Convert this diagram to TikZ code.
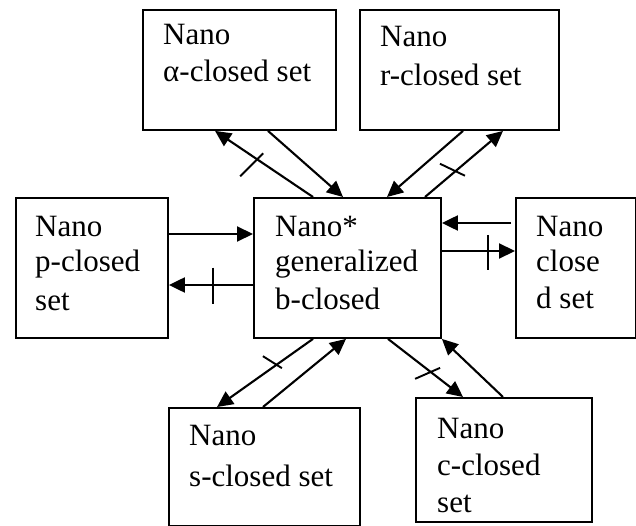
\documentclass[tikz,border=0pt]{standalone}
\usepackage{fontspec}
\setmainfont{Liberation Serif}
\usetikzlibrary{arrows.meta,calc}
\begin{document}
\begin{tikzpicture}[x=1pt,y=-1pt,
  box/.style={draw, line width=1.9pt, rectangle, inner sep=0pt, anchor=north west},
  lbl/.style={anchor=base west, inner sep=0pt, font=\fontsize{31}{37}\selectfont},
  conn/.style={line width=2.1pt, -{Triangle[length=16pt,width=15pt]}},
  tickln/.style={line width=1.9pt}]
\useasboundingbox (0,0) rectangle (636,526);

% boxes
\node[box, minimum width=193pt, minimum height=120pt] (alpha) at (142,9) {};
\node[box, minimum width=199pt, minimum height=120pt] (rbox) at (359,9) {};
\node[box, minimum width=152pt, minimum height=140pt] (pbox) at (15,197) {};
\node[box, minimum width=187pt, minimum height=140pt] (ctr) at (253,197) {};
\node[box, minimum width=120pt, minimum height=140pt] (dbox) at (515,197) {};
\node[box, minimum width=191pt, minimum height=118pt] (sbox) at (168,407) {};
\node[box, minimum width=176pt, minimum height=124pt] (cbox) at (415,397) {};

% texts
\node[lbl] (a1) at (163,45) {Nano};
\node[lbl] (a2) at (163,82) {α-closed set};
\node[lbl] (r1) at (380,47) {Nano};
\node[lbl] (r2) at (380,86) {r-closed set};
\node[lbl] (p1) at (35,237) {Nano};
\node[lbl] (p2) at (35,272) {p-closed};
\node[lbl] (p3) at (35,310) {set};
\node[lbl] (c1) at (275,237) {Nano*};
\node[lbl] (c2) at (275,272) {generalized};
\node[lbl] (c3) at (275,309) {b-closed};
\node[lbl] (d1) at (536,237) {Nano};
\node[lbl] (d2) at (536,272) {close};
\node[lbl] (d3) at (536,308) {d set};
\node[lbl] (s1) at (189,445) {Nano};
\node[lbl] (s2) at (189,486) {s-closed set};
\node[lbl] (k1) at (437,438) {Nano};
\node[lbl] (k2) at (437,475) {c-closed};
\node[lbl] (k3) at (437,512) {set};

% connectors
\draw[conn] ($(alpha.south west)+(126,0)$) -- ($(ctr.north west)+(90,0)$);
\draw[conn] ($(ctr.north west)+(60,0)$) -- coordinate[pos=0.57] (t2) ($(alpha.south west)+(73,0)$);
\draw[conn] ($(rbox.south west)+(104,0)$) -- ($(ctr.north west)+(134,0)$);
\draw[conn] ($(ctr.north west)+(172,0)$) -- coordinate[pos=0.39] (t4) ($(rbox.south west)+(144,0)$);
\draw[conn] ($(pbox.north east)+(0,37)$) -- ($(ctr.north west)+(0,37)$);
\draw[conn] ($(ctr.north west)+(0,88)$) -- coordinate[pos=0.477] (t6) ($(pbox.north east)+(0,88)$);
\draw[conn] ($(dbox.north west)+(-4,26)$) -- ($(ctr.north east)+(0,26)$);
\draw[conn] ($(ctr.north east)+(0,54)$) -- coordinate[pos=0.627] (t8) ($(dbox.north west)+(0,54)$);
\draw[conn] ($(ctr.south west)+(60,0)$) -- coordinate[pos=0.38] (t9) ($(sbox.north west)+(49,0)$);
\draw[conn] ($(sbox.north west)+(95,0)$) -- ($(ctr.south west)+(93,0)$);
\draw[conn] ($(ctr.south west)+(135,0)$) -- coordinate[pos=0.569] (t11) ($(cbox.north west)+(48,0)$);
\draw[conn] ($(cbox.north west)+(88,0)$) -- (ctr.south east);

% negation ticks
\draw[tickln] (t2) +(-17,17) -- +(6,-6);
\draw[tickln] (t4) +(-15.5,-7.5) -- +(9.5,4.5);
\draw[tickln] (t6) +(0,-17.5) -- +(0,18.5);
\draw[tickln] (t8) +(0,-16) -- +(0,19);
\draw[tickln] (t9) +(-13.6,-8.6) -- +(5.4,3.4);
\draw[tickln] (t11) +(-15.6,6.9) -- +(9.4,-4.1);
\end{tikzpicture}
\end{document}
